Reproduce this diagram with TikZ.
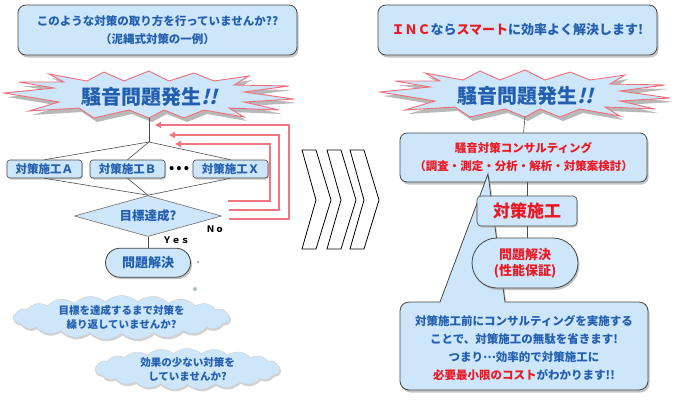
\documentclass[tikz,border=0pt]{standalone}
\usepackage{fontspec}
\setmainfont{Noto Sans CJK JP}
\newfontfamily\jpslant{Noto Sans CJK JP}[FakeSlant=0.25]
\usepackage{xcolor}
\usetikzlibrary{shapes.geometric, shapes.symbols, shapes.misc, arrows.meta, positioning, shadows, calc}

\definecolor{boxfill}{RGB}{206,230,250}
\definecolor{boxline}{RGB}{70,70,70}
\definecolor{txtblue}{RGB}{35,95,175}
\definecolor{txtred}{RGB}{235,25,35}
\definecolor{burstline}{RGB}{240,110,120}
\definecolor{fbred}{RGB}{242,118,128}

% outline of the "noise" burst, around its centre (y grows downwards)
\newcommand\burstpath{(-145,-3) -- (-95,-8) -- (-130,-14) -- (-85,-14) -- (-100,-22)
  -- (-62,-15) -- (-45,-24) -- (-25,-15) -- (0,-25) -- (20,-15) -- (45,-23)
  -- (65,-15) -- (100,-20) -- (85,-11) -- (140,-10) -- (95,-4) -- (145,3)
  -- (95,6) -- (130,14) -- (80,12) -- (95,21) -- (55,14) -- (35,22) -- (15,14)
  -- (0,22) -- (-20,14) -- (-55,22) -- (-70,12) -- (-120,15) -- (-90,6) -- cycle}

\tikzset{
  msgbox/.style={
    rectangle, rounded corners=8pt, draw=boxline, line width=0.8pt,
    fill=boxfill, align=center, inner sep=0pt, text=txtblue,
    drop shadow={shadow xshift=1.5pt, shadow yshift=-2.5pt, fill=black!45}
  },
  stepbox/.style={
    rectangle, rounded corners=3pt, draw=boxline, line width=0.6pt,
    fill=boxfill, align=center, inner sep=0pt, text=txtblue,
    font=\bfseries\fontsize{11.5}{14}\selectfont,
    minimum width=75pt, minimum height=18pt,
    drop shadow={shadow xshift=1pt, shadow yshift=-1.5pt, fill=black!40}
  },
  endbox/.style={
    rounded rectangle, draw=boxline, line width=0.8pt,
    fill=boxfill, align=center, inner sep=0pt, text=txtblue,
    drop shadow={shadow xshift=1.5pt, shadow yshift=-2pt, fill=black!45}
  },
  decision/.style={
    diamond, aspect=3.6, draw=boxline!80, line width=0.6pt,
    fill=boxfill, inner sep=0pt, text=txtblue,
    font=\bfseries\fontsize{12.5}{14}\selectfont,
    minimum width=147pt, minimum height=41pt
  },
  burst/.style={fill=boxfill, draw=burstline, line width=0.9pt, line join=miter},
  burstshade/.style={fill=black!28},
  bursttext/.style={text=txtblue, font=\bfseries\fontsize{20}{22}\selectfont, inner sep=0pt},
  cloudnote/.style={
    cloud, cloud puffs=21, cloud puff arc=85, cloud ignores aspect,
    draw=gray!40, line width=0.4pt, fill=boxfill, inner sep=0pt,
    align=center, text=txtblue, font=\bfseries\fontsize{10.5}{14}\selectfont,
    drop shadow={shadow xshift=1pt, shadow yshift=-2pt, fill=black!35}
  },
  callout/.style={
    draw=boxline, line width=0.8pt, fill=boxfill,
    drop shadow={shadow xshift=1.5pt, shadow yshift=-2.5pt, fill=black!45}
  },
  chevron/.style={draw=black, line width=0.8pt, fill=white, line join=miter},
  link/.style={draw=black!70, line width=0.6pt},
  fbarrow/.style={-{Triangle[length=6pt, width=6pt]}, draw=fbred, line width=1.5pt},
  tag/.style={font=\bfseries\fontsize{9}{10}\selectfont, inner sep=0pt}
}

\begin{document}
\begin{tikzpicture}[x=1pt, y=-1pt]
\useasboundingbox (0,0) rectangle (675,400);

% ---- left: the usual way ----
\node[msgbox, minimum width=279pt, minimum height=50pt,
      font=\bfseries\fontsize{11.5}{18}\selectfont] (askL) at (157.5,30)
  {このような対策の取り方を行っていませんか??\\（泥縄式対策の一例）};

\fill[burstshade, shift={(152,100)}] \burstpath;
\filldraw[burst, shift={(149,96)}] \burstpath;
\node[bursttext] (burstL) at (149,97) {騒音問題発生{\jpslant!!}};
\coordinate (burstLb) at (149,118);
\coordinate (split) at (149,142);

\node[stepbox] (tA) at (44.5,169)  {対策施工Ａ};
\node[stepbox] (tB) at (127.5,169) {対策施工Ｂ};
\node[stepbox] (tX) at (230.5,169) {対策施工Ｘ};
\node[font=\bfseries\fontsize{13}{14}\selectfont, inner sep=0pt] (dots) at (179,169) {•\,•\,•};

\node[decision] (dia) at (148,216) {目標達成?};
\node[endbox, below=11pt of dia, minimum width=85pt, minimum height=29pt,
      font=\bfseries\fontsize{13}{15}\selectfont] (goalL) {問題解決};

\node[tag] (yes) at (176,240) {Ｙｅｓ};
\node[tag] (no)  at (215,229) {Ｎｏ};

\draw[link] (burstLb) -- (split);
\foreach \t in {tA,tB,tX} {
  \draw[link] (split) -- (\t.north);
  \draw[link] (\t.south) -- (dia.north);
}
\draw[link] (dia.south) -- (goalL.north);

% feedback loops
\coordinate (fbA1) at (229,219); \coordinate (fbB1) at (155,125);
\coordinate (fbA2) at (229,210); \coordinate (fbB2) at (169,135);
\coordinate (fbA3) at (228,201); \coordinate (fbB3) at (175,144);
\foreach \i/\w in {1/60,2/50,3/42} {
  \draw[fbarrow] (fbA\i) -- ++(\w,0) |- (fbB\i);
}

% thought clouds
\fill[boxfill!60!gray] (198,262) circle (1.5);
\fill[boxfill!60!gray] (195,289) circle (2);
\node[cloudnote, minimum width=217pt, minimum height=39pt] (cloudA) at (121.5,317.5)
  {目標を達成するまで対策を\\繰り返していませんか?};
\node[cloudnote, minimum width=185pt, minimum height=38pt] (cloudB) at (187.5,369)
  {効果の少ない対策を\\していませんか?};

% ---- chevrons ----
\foreach \cx in {302,327,350} {
  \draw[chevron] (\cx,150) -- ++(14,0) -- ++(15,50) -- ++(-15,49)
    -- ++(-14,0) -- ++(14,-49) -- cycle;
}

% ---- right: the INC way ----
\node[msgbox, minimum width=279pt, minimum height=50pt,
      font=\bfseries\fontsize{13}{16}\selectfont] (askR) at (517.5,30)
  {{\color{txtred}ＩＮＣ}なら{\color{txtred}スマート}に効率よく解決します!};

\fill[burstshade, shift={(528,99)}] \burstpath;
\filldraw[burst, shift={(525,95)}] \burstpath;
\node[bursttext] (burstR) at (525,96) {騒音問題発生{\jpslant!!}};
\coordinate (burstRb) at (525,117);

\node[msgbox, rounded corners=7pt, minimum width=247pt, minimum height=49pt,
      text=txtred, font=\bfseries\fontsize{11.5}{18}\selectfont] (consult) at (523.5,157.5)
  {騒音対策コンサルティング\\（調査・測定・分析・解析・対策案検討）};
\draw[link] (burstRb) -- (consult.north);

% callout with its tail
\coordinate (tip) at (488,174);
\draw[callout] (440,302) -- (tip) -- (505,302) [rounded corners=9pt] -- (648,302)
  -- (648,390) -- (400,390) -- (400,302) [sharp corners] -- cycle;
\node[align=center, inner sep=0pt, text=txtblue,
      font=\bfseries\fontsize{11.5}{18}\selectfont] (note) at (524,348)
  {対策施工前にコンサルティングを実施する\\
   ことで、対策施工の無駄を省きます!\\
   つまり\raisebox{0.3em}{…}効率的で対策施工に\\
   {\color{txtred}必要最小限のコスト}がわかります!!};

\node[stepbox, rounded corners=4pt, minimum width=100pt, minimum height=30pt,
      text=txtred, font=\bfseries\fontsize{17}{19}\selectfont] (sekou) at (527,211) {対策施工};
\node[endbox, minimum width=106pt, minimum height=50pt, text=txtred,
      font=\bfseries\fontsize{13}{16}\selectfont] (goalR) at (525,263) {問題解決\\(性能保証)};
\draw[link] (consult.south -| sekou.north) -- (sekou.north);
\draw[link] (sekou.south) -- (sekou.south |- goalR.north);

\end{tikzpicture}
\end{document}
